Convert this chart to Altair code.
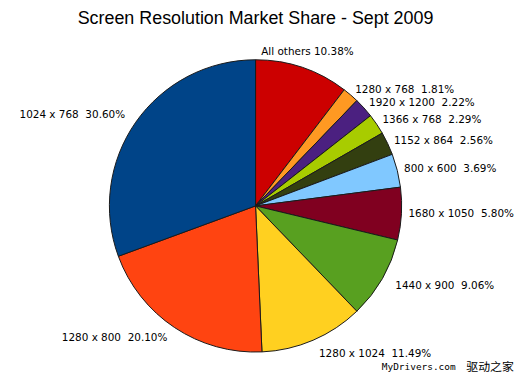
import altair as alt
import pandas as pd

labels = ["All others", "1280 x 768", "1920 x 1200", "1366 x 768", "1152 x 864",
          "800 x 600", "1680 x 1050", "1440 x 900", "1280 x 1024", "1280 x 800", "1024 x 768"]
shares = [10.38, 1.81, 2.22, 2.29, 2.56, 3.69, 5.80, 9.06, 11.49, 20.10, 30.60]
colors = ["#CC0000", "#FF9922", "#4B2080", "#A8CC00", "#333F10", "#80C8FF",
          "#800020", "#58A020", "#FFD020", "#FF4411", "#004488"]
title_text = "Screen Resolution Market Share - Sept 2009"
watermark_latin = ["MyDrivers.com"]
watermark_cjk = ["驱动之家"]

texts = [(l + " " + f"{s:.2f}%") if l == "All others" else (l + "\u00a0\u00a0" + f"{s:.2f}%")
         for l, s in zip(labels, shares)]
df = pd.DataFrame({"label": labels, "share": shares, "idx": list(range(len(labels))), "text": texts})

W, H = 498, 300
R = 147
theta_scale = alt.Scale(domain=[0, 100])

base = alt.Chart(df)
pie = base.mark_arc(radius=R, stroke="#1a1a1a", strokeWidth=1).encode(
    theta=alt.Theta("share:Q", stack=True, scale=theta_scale),
    color=alt.Color("label:N", scale=alt.Scale(domain=labels, range=colors), legend=None),
    order=alt.Order("idx:Q"),
)

lab = base.transform_window(
    cum="sum(share)", sort=[alt.SortField("idx")]
).transform_calculate(mid="datum.cum - datum.share / 2")


def text_layer(cond, align, r):
    return lab.transform_filter(cond).mark_text(
        radius=r, align=align, baseline="middle", font="DejaVu Sans", fontSize=10.5, color="black"
    ).encode(
        theta=alt.Theta("mid:Q", scale=theta_scale, stack=False),
        text="text:N",
    )


top = text_layer("datum.mid < 8", "center", 163)
right_up = text_layer("datum.mid >= 8 && datum.mid < 30", "left", 154)
right_low = text_layer("datum.mid >= 30 && datum.mid < 50", "left", 162)
left = text_layer("datum.mid >= 50", "right", 160)

wm1 = alt.Chart(pd.DataFrame({"t": watermark_latin})).mark_text(
    font="DejaVu Sans Mono", fontSize=9.5, align="left", baseline="alphabetic", color="black"
).encode(x=alt.value(376), y=alt.value(315), text="t:N")
wm2 = alt.Chart(pd.DataFrame({"t": watermark_cjk})).mark_text(
    font="Noto Sans CJK SC", fontSize=12, align="left", baseline="alphabetic", color="black"
).encode(x=alt.value(461), y=alt.value(316), text="t:N")

chart = alt.layer(pie, top, right_up, right_low, left, wm1, wm2).properties(
    width=W, height=H, padding=0, background="white",
    title=alt.TitleParams(title_text, font="Liberation Sans", fontSize=18, fontWeight="normal",
                          anchor="middle", frame="group", offset=20, color="black"),
).configure_view(stroke=None)

chart.save("out.html", embed_options={"renderer": "svg", "actions": False})
